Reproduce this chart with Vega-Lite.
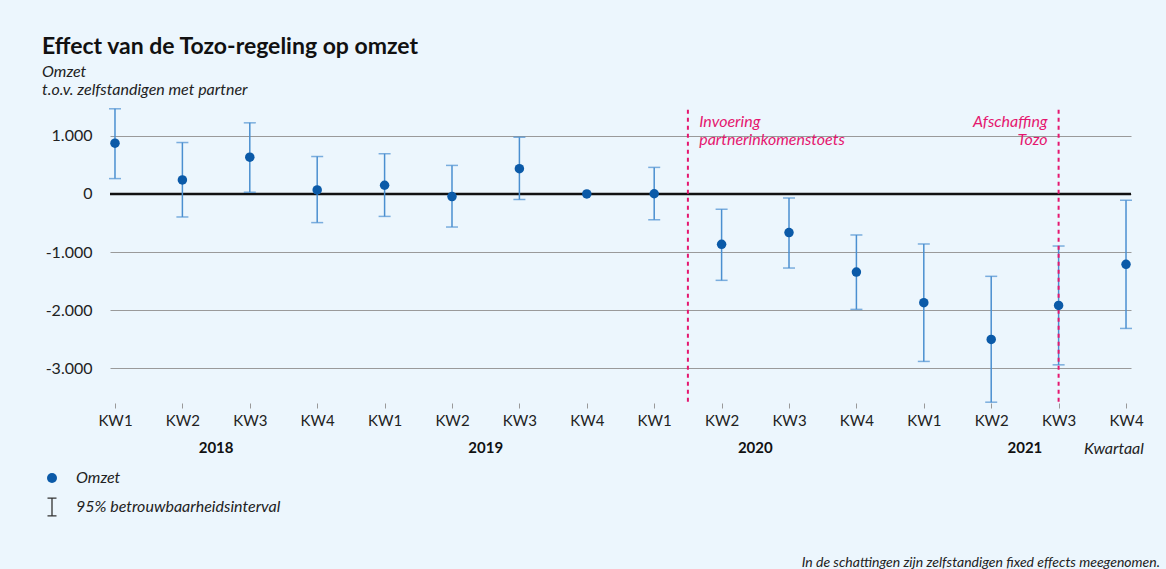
{
  "$schema": "https://vega.github.io/schema/vega-lite/v6.json",
  "width": 1021,
  "height": 302,
  "autosize": "none",
  "padding": {"left": 110, "top": 101, "right": 35, "bottom": 166},
  "background": "#ecf6fd",
  "config": {
    "font": "Lato",
    "view": {"stroke": null},
    "axis": {"labelFont": "Lato", "labelColor": "#222222", "labelFontSize": 15}
  },
  "title": {
    "text": "Effect van de Tozo-regeling op omzet",
    "subtitle": ["Omzet", "\u00a0t.o.v. zelfstandigen met partner"],
    "anchor": "start",
    "frame": "group",
    "dx": -68,
    "offset": 3,
    "fontSize": 23,
    "fontWeight": "bold",
    "color": "#111111",
    "subtitleFontSize": 16,
    "subtitleFontStyle": "italic",
    "subtitleColor": "#222222",
    "subtitlePadding": 5,
    "subtitleLineHeight": 18
  },
  "data": {
    "values": [
      {"q": "2018-KW1", "omzet": 874, "lo": 264, "hi": 1466},
      {"q": "2018-KW2", "omzet": 241, "lo": -397, "hi": 885},
      {"q": "2018-KW3", "omzet": 632, "lo": 29, "hi": 1224},
      {"q": "2018-KW4", "omzet": 69, "lo": -494, "hi": 644},
      {"q": "2019-KW1", "omzet": 149, "lo": -387, "hi": 692},
      {"q": "2019-KW2", "omzet": -45, "lo": -570, "hi": 491},
      {"q": "2019-KW3", "omzet": 435, "lo": -96, "hi": 976},
      {"q": "2019-KW4", "omzet": 0, "lo": null, "hi": null},
      {"q": "2020-KW1", "omzet": 3, "lo": -445, "hi": 457},
      {"q": "2020-KW2", "omzet": -867, "lo": -1488, "hi": -264},
      {"q": "2020-KW3", "omzet": -666, "lo": -1276, "hi": -70},
      {"q": "2020-KW4", "omzet": -1345, "lo": -1988, "hi": -707},
      {"q": "2021-KW1", "omzet": -1872, "lo": -2884, "hi": -862},
      {"q": "2021-KW2", "omzet": -2506, "lo": -3586, "hi": -1419},
      {"q": "2021-KW3", "omzet": -1920, "lo": -2943, "hi": -897},
      {"q": "2021-KW4", "omzet": -1212, "lo": -2316, "hi": -109}
    ]
  },
  "encoding": {
    "x": {
      "field": "q",
      "type": "ordinal",
      "scale": {
        "type": "point",
        "padding": 0.074,
        "domain": ["2018-KW1", "2018-KW2", "2018-KW3", "2018-KW4", "2019-KW1", "2019-KW2", "2019-KW3", "2019-KW4", "2020-KW1", "2020-KW2", "2020-KW3", "2020-KW4", "2021-KW1", "2021-KW2", "2021-KW3", "2021-KW4"]
      },
      "axis": {
        "title": null,
        "domain": false,
        "grid": false,
        "labelAngle": 0,
        "tickColor": "#999999",
        "tickSize": 5,
        "labelPadding": 5,
        "labelExpr": "split(datum.value, '-')[1]"
      }
    }
  },
  "layer": [
    {
      "mark": {"type": "rule", "strokeWidth": 0},
      "encoding": {
        "y": {
          "field": "omzet",
          "type": "quantitative",
          "scale": {"domain": [-3600, 1600], "nice": false, "zero": false},
          "axis": {
            "title": null,
            "values": [-3000, -2000, -1000, 0, 1000],
            "grid": true,
            "gridColor": "#9a9a9a",
            "gridWidth": 1,
            "domain": false,
            "ticks": false,
            "labelPadding": 18,
            "labelFontSize": 16,
            "labelExpr": "replace(replace(format(datum.value, ','), ',', '.'), '\u2212', '-')"
          }
        }
      }
    },
    {
      "data": {"values": [{"nul": 0}]},
      "mark": {"type": "rule", "color": "#111111", "strokeWidth": 2.5},
      "encoding": {"x": null, "y": {"field": "nul", "type": "quantitative"}}
    },
    {
      "transform": [{"filter": "datum.lo != null"}],
      "mark": {"type": "rule", "color": "#4a8fd0", "strokeWidth": 1.5},
      "encoding": {
        "y": {"field": "lo", "type": "quantitative"},
        "y2": {"field": "hi"}
      }
    },
    {
      "transform": [{"filter": "datum.lo != null"}],
      "mark": {"type": "tick", "orient": "horizontal", "color": "#4a8fd0", "size": 12, "thickness": 1.5},
      "encoding": {"y": {"field": "lo", "type": "quantitative"}}
    },
    {
      "transform": [{"filter": "datum.hi != null"}],
      "mark": {"type": "tick", "orient": "horizontal", "color": "#4a8fd0", "size": 12, "thickness": 1.5},
      "encoding": {"y": {"field": "hi", "type": "quantitative"}}
    },
    {
      "data": {"values": [{"q": "2020-KW1", "top": 1450, "bottom": -3600}]},
      "mark": {"type": "rule", "color": "#e5176f", "strokeWidth": 2, "strokeDash": [4, 4], "xOffset": 33.7},
      "encoding": {
        "y": {"field": "top", "type": "quantitative"},
        "y2": {"field": "bottom"}
      }
    },
    {
      "data": {"values": [{"q": "2021-KW3", "top": 1450, "bottom": -3600}]},
      "mark": {"type": "rule", "color": "#e5176f", "strokeWidth": 2, "strokeDash": [4, 4]},
      "encoding": {
        "y": {"field": "top", "type": "quantitative"},
        "y2": {"field": "bottom"}
      }
    },
    {
      "mark": {"type": "point", "filled": true, "opacity": 1, "size": 90},
      "encoding": {
        "y": {"field": "omzet", "type": "quantitative"},
        "color": {
          "datum": "Omzet",
          "type": "nominal",
          "scale": {
            "domain": ["Omzet", "95% betrouwbaarheidsinterval"],
            "range": ["#0b5aa8", "#333333"]
          },
          "legend": {
            "title": null,
            "orient": "none",
            "legendX": -66,
            "legendY": 369,
            "symbolSize": 100,
            "symbolOpacity": 1,
            "labelFontSize": 16,
            "labelFontStyle": "italic",
            "labelColor": "#222222",
            "labelOffset": 16,
            "labelLimit": 500,
            "rowPadding": 8
          }
        },
        "shape": {
          "datum": "Omzet",
          "type": "nominal",
          "scale": {
            "domain": ["Omzet", "95% betrouwbaarheidsinterval"],
            "range": ["circle", "M-0.9,-1.9H0.9V-1.65H-0.9Z M-0.13,-1.9H0.13V1.9H-0.13Z M-0.9,1.65H0.9V1.9H-0.9Z"]
          },
          "legend": {
            "title": null,
            "orient": "none",
            "legendX": -66,
            "legendY": 369,
            "symbolSize": 100,
            "symbolOpacity": 1,
            "labelFontSize": 16,
            "labelFontStyle": "italic",
            "labelColor": "#222222",
            "labelOffset": 16,
            "labelLimit": 500,
            "rowPadding": 8
          }
        }
      }
    },
    {
      "data": {"values": [{"q": "2020-KW1", "y": 1380, "t": ["Invoering", "\u00a0partnerinkomenstoets"]}]},
      "mark": {"type": "text", "align": "left", "baseline": "top", "dx": 45, "fontSize": 16, "fontStyle": "italic", "color": "#e5176f", "lineHeight": 18},
      "encoding": {
        "y": {"field": "y", "type": "quantitative"},
        "text": {"field": "t"}
      }
    },
    {
      "data": {"values": [{"q": "2021-KW3", "y": 1380, "t": ["Afschaffing", "Tozo"]}]},
      "mark": {"type": "text", "align": "right", "baseline": "top", "dx": -11, "fontSize": 16, "fontStyle": "italic", "color": "#e5176f", "lineHeight": 18},
      "encoding": {
        "y": {"field": "y", "type": "quantitative"},
        "text": {"field": "t"}
      }
    },
    {
      "data": {"values": [{"q": "2018-KW2", "jaar": "2018"}, {"q": "2019-KW2", "jaar": "2019"}, {"q": "2020-KW2", "jaar": "2020"}, {"q": "2021-KW2", "jaar": "2021"}]},
      "mark": {"type": "text", "align": "center", "baseline": "middle", "dx": 33.7, "dy": 45, "fontSize": 15, "fontWeight": "bold", "color": "#111111"},
      "encoding": {
        "y": {"datum": -3600, "type": "quantitative"},
        "text": {"field": "jaar"}
      }
    },
    {
      "data": {"values": [{"q": "2021-KW4", "t": "Kwartaal"}]},
      "mark": {"type": "text", "align": "center", "baseline": "middle", "dx": -12, "dy": 46, "fontSize": 16, "fontStyle": "italic", "color": "#222222"},
      "encoding": {
        "y": {"datum": -3600, "type": "quantitative"},
        "text": {"field": "t"}
      }
    },
    {
      "data": {"values": [{"q": "2021-KW4", "t": "In de schattingen zijn zelfstandigen fixed effects meegenomen."}]},
      "mark": {"type": "text", "align": "right", "baseline": "middle", "dx": 34, "dy": 160, "fontSize": 14, "fontStyle": "italic", "color": "#222222"},
      "encoding": {
        "y": {"datum": -3600, "type": "quantitative"},
        "text": {"field": "t"}
      }
    }
  ]
}
